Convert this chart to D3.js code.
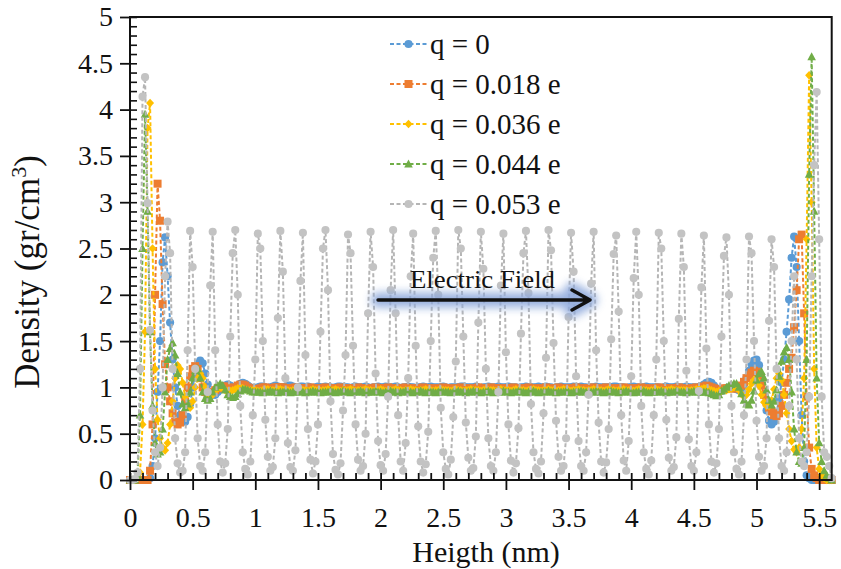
<!DOCTYPE html>
<html>
<head>
<meta charset="utf-8">
<script src="https://cdn.jsdelivr.net/npm/d3@7/dist/d3.min.js"></script>
<style>
  body { margin: 0; background: #fff; }
  svg { display: block; }
</style>
</head>
<body>
<div class="chart"></div>
<script>
// 采样点：0 ~ 5.6 nm，步长 0.02 nm
const heightNm = d3.range(281).map(i => +(i * 0.02).toFixed(2))

// q = 0
const rhoQ0 = [
  0, 0, 0, 0, 0, 0, 0, 0, 0.02, 0.15,
  0.45, 0.95, 1.5, 2.35, 2.62, 2.2, 1.7, 1.3, 1.0, 0.8,
  0.7, 0.64, 0.63, 0.68, 0.82, 1.0, 1.15, 1.25, 1.29, 1.26,
  1.15, 1.03, 0.95, 0.92, 0.92, 0.95, 0.98, 1.0, 1.02, 1.03,
  1.02, 1.0, 0.99, 1.01, 1.04, 1.05, 1.04, 1.02, 1.0, 0.99,
  0.99, 1.0, 1.01, 1.01, 1.0, 0.99, 1.0, 1.01, 1.02, 1.01,
  1.0, 1.0, 1.01, 1.02, 1.02, 1.01, 1.0, 1.0, 1.01, 1.01,
  1.0, 1.01, 1.0, 0.99, 1.0, 1.01, 1.0, 1.0, 1.01, 1.0,
  1.0, 0.99, 1.0, 1.01, 1.01, 1.0, 1.0, 1.0, 0.99, 1.0,
  1.01, 1.0, 1.0, 1.0, 1.01, 1.0, 0.99, 1.0, 1.0, 1.01,
  1.0, 1.0, 1.01, 1.0, 1.0, 1.0, 1.01, 1.0, 0.99, 1.0,
  1.0, 1.01, 1.0, 1.0, 0.99, 1.0, 1.0, 1.01, 1.0, 1.0,
  1.01, 1.0, 1.0, 1.0, 1.0, 1.01, 1.0, 0.99, 1.0, 1.0,
  1.0, 1.0, 1.01, 1.01, 1.0, 1.0, 1.0, 1.0, 1.01, 1.0,
  0.99, 1.0, 1.0, 1.01, 1.0, 1.0, 1.0, 1.01, 1.0, 1.0,
  1.0, 1.01, 1.0, 1.0, 1.0, 0.99, 1.0, 1.0, 1.01, 1.0,
  1.0, 1.0, 1.0, 1.01, 1.0, 1.0, 1.01, 1.0, 1.0, 0.99,
  1.0, 1.0, 1.01, 1.0, 1.0, 1.0, 1.0, 1.01, 1.0, 1.0,
  1.01, 1.0, 1.0, 0.99, 1.0, 1.0, 1.01, 1.0, 1.0, 1.0,
  1.0, 1.0, 1.0, 1.01, 1.01, 1.0, 1.0, 1.0, 0.99, 1.0,
  1.0, 1.01, 1.0, 1.0, 1.0, 1.0, 1.01, 1.0, 1.0, 1.0,
  1.0, 1.0, 0.99, 1.0, 1.01, 1.0, 1.0, 1.0, 1.01, 1.0,
  1.0, 1.0, 1.01, 1.0, 1.0, 1.0, 1.0, 1.0, 1.01, 1.03,
  1.05, 1.06, 1.05, 1.02, 0.99, 0.97, 0.96, 0.97, 0.99, 1.0,
  1.0, 0.99, 0.98, 0.97, 0.99, 1.03, 1.1, 1.18, 1.25, 1.29,
  1.3, 1.24, 1.1, 0.92, 0.75, 0.64, 0.6, 0.63, 0.72, 0.88,
  1.05, 1.3, 1.6, 1.95, 2.4, 2.63, 2.3, 1.5, 0.7, 0.2,
  0.05, 0.02, 0, 0, 0, 0, 0, 0, 0, 0,
  0
]

// q = 0.018 e
const rhoQ018 = [
  0, 0, 0, 0, 0, 0, 0, 0, 0.1, 0.6,
  2.0, 3.2, 2.8, 1.9, 1.25, 1.0, 0.85, 0.72, 0.63, 0.6,
  0.62, 0.7, 0.85, 1.0, 1.12, 1.2, 1.23, 1.2, 1.1, 1.0,
  0.95, 0.93, 0.93, 0.95, 0.97, 0.99, 1.0, 1.01, 1.01, 1.0,
  0.99, 0.99, 1.0, 1.02, 1.03, 1.03, 1.02, 1.0, 0.99, 0.98,
  0.98, 0.98, 0.99, 1.0, 1.0, 0.99, 0.99, 0.99, 1.0, 1.0,
  1.0, 1.0, 0.99, 0.99, 0.99, 0.99, 1.0, 0.99, 0.99, 0.99,
  0.99, 0.99, 1.0, 0.99, 0.98, 0.99, 0.99, 0.99, 1.0, 0.99,
  0.99, 0.98, 0.99, 0.99, 1.0, 0.99, 0.99, 0.99, 0.98, 0.99,
  0.99, 1.0, 0.99, 0.99, 0.99, 0.98, 0.99, 0.99, 1.0, 0.99,
  0.99, 0.99, 0.99, 1.0, 0.99, 0.99, 0.98, 0.99, 0.99, 0.99,
  1.0, 0.99, 0.99, 0.99, 0.98, 0.99, 0.99, 1.0, 0.99, 0.99,
  0.99, 0.99, 0.98, 0.99, 0.99, 1.0, 0.99, 0.99, 0.99, 0.98,
  0.99, 0.99, 1.0, 0.99, 0.99, 0.99, 0.98, 0.99, 0.99, 1.0,
  0.99, 0.98, 0.99, 0.99, 1.0, 0.99, 0.99, 0.99, 0.98, 0.99,
  0.99, 0.99, 0.99, 1.0, 0.99, 0.98, 0.99, 0.99, 0.99, 1.0,
  0.99, 0.99, 0.98, 0.99, 0.99, 0.99, 1.0, 0.99, 0.99, 0.98,
  0.99, 1.0, 0.99, 0.99, 0.98, 0.99, 0.99, 0.99, 1.0, 0.99,
  0.99, 0.98, 0.99, 0.99, 0.99, 1.0, 0.99, 0.98, 0.99, 0.99,
  1.0, 0.99, 0.99, 0.98, 0.99, 0.99, 0.99, 1.0, 0.99, 0.99,
  0.98, 0.99, 0.99, 0.99, 1.0, 0.99, 0.99, 0.98, 0.99, 0.99,
  0.99, 1.0, 0.99, 0.99, 0.99, 0.98, 0.99, 0.99, 0.99, 1.0,
  0.99, 0.99, 0.98, 0.99, 0.99, 0.99, 1.0, 0.99, 1.0, 1.01,
  1.02, 1.01, 1.0, 0.99, 0.98, 0.98, 0.98, 0.99, 0.99, 0.99,
  0.99, 0.99, 0.99, 0.99, 1.02, 1.06, 1.1, 1.13, 1.16, 1.18,
  1.17, 1.12, 1.02, 0.92, 0.84, 0.78, 0.74, 0.7, 0.69, 0.72,
  0.8, 0.92, 1.05, 1.2, 1.32, 1.65, 2.05, 2.6, 2.65, 1.8,
  0.9, 0.35, 0.12, 0.05, 0.02, 0, 0, 0, 0, 0,
  0
]

// q = 0.036 e
const rhoQ036 = [
  0, 0, 0, 0.02, 0.08, 0.6, 1.6, 3.8, 4.07, 2.5,
  1.2, 0.65, 0.45, 0.35, 0.32, 0.4, 0.6, 0.85, 1.1, 1.24,
  1.2, 1.05, 0.9, 0.8, 0.78, 0.85, 1.0, 1.1, 1.15, 1.1,
  1.0, 0.93, 0.9, 0.92, 0.96, 0.99, 1.0, 0.99, 0.97, 0.96,
  0.96, 0.97, 0.98, 0.99, 1.0, 0.99, 0.98, 0.97, 0.97, 0.97,
  0.97, 0.96, 0.96, 0.97, 0.98, 0.98, 0.97, 0.97, 0.97, 0.98,
  0.98, 0.97, 0.97, 0.97, 0.96, 0.97, 0.97, 0.98, 0.97, 0.97,
  0.97, 0.96, 0.97, 0.98, 0.97, 0.97, 0.96, 0.97, 0.97, 0.98,
  0.97, 0.97, 0.98, 0.97, 0.96, 0.97, 0.97, 0.97, 0.98, 0.97,
  0.96, 0.97, 0.97, 0.97, 0.98, 0.97, 0.97, 0.96, 0.97, 0.97,
  0.98, 0.97, 0.96, 0.97, 0.97, 0.97, 0.98, 0.97, 0.97, 0.96,
  0.97, 0.97, 0.98, 0.97, 0.97, 0.96, 0.97, 0.97, 0.98, 0.97,
  0.97, 0.96, 0.97, 0.97, 0.98, 0.97, 0.97, 0.97, 0.96, 0.97,
  0.98, 0.97, 0.97, 0.96, 0.97, 0.97, 0.98, 0.97, 0.97, 0.97,
  0.96, 0.97, 0.98, 0.97, 0.97, 0.97, 0.96, 0.97, 0.98, 0.97,
  0.97, 0.97, 0.96, 0.97, 0.98, 0.97, 0.97, 0.97, 0.96, 0.97,
  0.97, 0.98, 0.97, 0.97, 0.96, 0.97, 0.97, 0.98, 0.97, 0.97,
  0.96, 0.97, 0.97, 0.98, 0.97, 0.97, 0.96, 0.97, 0.97, 0.98,
  0.97, 0.97, 0.96, 0.97, 0.97, 0.98, 0.97, 0.97, 0.97, 0.96,
  0.97, 0.98, 0.97, 0.97, 0.96, 0.97, 0.97, 0.98, 0.97, 0.97,
  0.97, 0.96, 0.97, 0.98, 0.97, 0.97, 0.97, 0.96, 0.97, 0.97,
  0.98, 0.97, 0.97, 0.96, 0.97, 0.97, 0.98, 0.97, 0.97, 0.97,
  0.97, 0.97, 0.97, 0.96, 0.97, 0.97, 0.98, 0.98, 0.98, 0.99,
  0.99, 0.98, 0.97, 0.96, 0.95, 0.96, 0.96, 0.97, 0.97, 0.98,
  0.99, 1.0, 1.0, 0.97, 0.93, 0.9, 0.92, 0.98, 1.04, 1.08,
  1.08, 1.02, 0.92, 0.84, 0.8, 0.8, 0.86, 0.98, 1.1, 1.15,
  1.08, 0.92, 0.72, 0.55, 0.42, 0.33, 0.3, 0.35, 0.55, 1.1,
  2.6, 4.37, 3.0, 1.2, 0.35, 0.12, 0.05, 0.02, 0, 0,
  0
]

// q = 0.044 e
const rhoQ044 = [
  0, 0, 0, 0.05, 0.7, 2.5, 3.95, 2.9, 1.6, 0.8,
  0.4, 0.28, 0.3, 0.55, 0.95, 1.3, 1.42, 1.48, 1.35, 1.15,
  0.95, 0.82, 0.78, 0.82, 0.95, 1.1, 1.18, 1.2, 1.1, 0.95,
  0.88, 0.86, 0.88, 0.95, 1.0, 1.02, 1.04, 1.02, 0.97, 0.92,
  0.9, 0.89, 0.9, 0.93, 0.96, 0.98, 0.98, 0.97, 0.96, 0.95,
  0.95, 0.95, 0.95, 0.94, 0.95, 0.95, 0.96, 0.95, 0.95, 0.94,
  0.95, 0.95, 0.96, 0.95, 0.94, 0.95, 0.95, 0.95, 0.96, 0.95,
  0.94, 0.95, 0.95, 0.96, 0.95, 0.95, 0.94, 0.95, 0.95, 0.95,
  0.96, 0.95, 0.94, 0.95, 0.95, 0.96, 0.95, 0.95, 0.94, 0.95,
  0.95, 0.95, 0.96, 0.95, 0.94, 0.95, 0.95, 0.95, 0.96, 0.95,
  0.95, 0.94, 0.95, 0.95, 0.96, 0.95, 0.95, 0.94, 0.95, 0.95,
  0.96, 0.95, 0.95, 0.94, 0.95, 0.95, 0.96, 0.95, 0.94, 0.95,
  0.95, 0.95, 0.94, 0.95, 0.96, 0.95, 0.95, 0.95, 0.94, 0.95,
  0.95, 0.96, 0.95, 0.95, 0.94, 0.95, 0.95, 0.96, 0.95, 0.95,
  0.94, 0.95, 0.95, 0.96, 0.95, 0.94, 0.95, 0.95, 0.95, 0.96,
  0.95, 0.95, 0.94, 0.95, 0.95, 0.96, 0.95, 0.95, 0.94, 0.95,
  0.95, 0.96, 0.95, 0.94, 0.95, 0.95, 0.95, 0.96, 0.95, 0.95,
  0.94, 0.95, 0.95, 0.95, 0.96, 0.95, 0.94, 0.95, 0.95, 0.95,
  0.96, 0.95, 0.95, 0.94, 0.95, 0.95, 0.96, 0.95, 0.95, 0.94,
  0.95, 0.95, 0.96, 0.95, 0.95, 0.94, 0.95, 0.95, 0.96, 0.95,
  0.95, 0.94, 0.95, 0.95, 0.95, 0.96, 0.95, 0.94, 0.95, 0.95,
  0.95, 0.95, 0.96, 0.95, 0.94, 0.95, 0.95, 0.95, 0.96, 0.95,
  0.95, 0.95, 0.94, 0.95, 0.95, 0.96, 0.95, 0.95, 0.95, 0.95,
  0.95, 0.94, 0.93, 0.92, 0.91, 0.92, 0.96, 0.98, 1.0, 1.02,
  1.03, 1.04, 1.04, 1.0, 0.93, 0.86, 0.82, 0.81, 0.86, 0.96,
  1.08, 1.15, 1.17, 1.1, 0.97, 0.86, 0.81, 0.85, 0.97, 1.12,
  1.28, 1.38, 1.43, 1.3, 0.95, 0.55, 0.3, 0.2, 0.18, 0.35,
  1.3, 3.3, 4.57, 2.9, 1.1, 0.4, 0.2, 0.1, 0.05, 0.02,
  0
]

// q = 0.053 e（除第一行外，每行从一个峰开始）
const rhoQ053 = [
  0, 0, 0.01, 0.08, 1.2, 4.14, 4.35, 2.99, 1.62, 0.75, 0.3, 0.15, 0.35, 1.0, 2.2,
  2.79, 2.45, 1.2, 0.45, 0.18, 0.08, 0.1, 0.3, 1.4,
  2.69, 2.3, 1.2, 0.45, 0.15, 0.1, 0.3, 0.95, 2.1,
  2.68, 1.4, 0.6, 0.2, 0.08, 0.18, 0.55, 1.55, 2.45,
  2.7, 2.0, 0.8, 0.3, 0.12, 0.06, 0.2, 0.7, 1.3,
  2.66, 2.5, 1.5, 0.65, 0.25, 0.1, 0.14, 0.45, 1.75,
  2.69, 2.25, 1.1, 0.4, 0.14, 0.1, 0.32, 1.0, 2.15,
  2.67, 1.35, 0.55, 0.22, 0.07, 0.2, 0.6, 1.6, 2.5,
  2.7, 2.05, 0.85, 0.28, 0.11, 0.06, 0.18, 0.75, 1.35,
  2.65, 2.45, 1.45, 0.6, 0.22, 0.1, 0.15, 0.5, 1.8,
  2.68, 2.3, 1.15, 0.42, 0.16, 0.1, 0.28, 0.9, 2.05,
  2.7, 1.8, 0.7, 0.2, 0.1, 0.4, 1.1, 2.2,
  2.66, 1.45, 0.58, 0.2, 0.08, 0.17, 0.52, 1.5, 2.4,
  2.69, 2.0, 0.78, 0.3, 0.12, 0.06, 0.22, 0.68, 1.28,
  2.7, 2.5, 1.55, 0.62, 0.24, 0.1, 0.13, 0.47, 1.7,
  2.68, 2.28, 1.2, 0.45, 0.15, 0.1, 0.3, 0.95, 2.1,
  2.66, 1.38, 0.6, 0.21, 0.08, 0.18, 0.56, 1.58, 2.45,
  2.69, 2.02, 0.82, 0.3, 0.12, 0.07, 0.2, 0.72, 1.32,
  2.7, 2.48, 1.48, 0.64, 0.25, 0.1, 0.15, 0.45, 1.76,
  2.67, 2.25, 1.12, 0.42, 0.15, 0.1, 0.3, 0.92, 2.12,
  2.68, 1.4, 0.62, 0.2, 0.08, 0.19, 0.55, 1.52, 2.44,
  2.64, 1.82, 0.7, 0.21, 0.1, 0.42, 1.12, 2.18,
  2.68, 2.0, 0.8, 0.3, 0.12, 0.06, 0.21, 0.7, 1.3,
  2.67, 2.5, 1.5, 0.65, 0.24, 0.1, 0.14, 0.46, 1.74,
  2.66, 2.3, 1.18, 0.44, 0.15, 0.1, 0.3, 0.96, 2.08,
  2.64, 1.42, 0.6, 0.2, 0.08, 0.18, 0.55, 1.55, 2.42,
  2.62, 2.0, 0.8, 0.3, 0.12, 0.06, 0.2, 0.7, 1.3,
  2.63, 2.45, 1.5, 0.64, 0.25, 0.1, 0.15, 0.45, 1.72,
  2.6, 2.3, 1.2, 0.45, 0.15, 0.1, 0.3, 0.8, 1.5,
  2.2, 1.3, 0.45, 0.2, 0.15, 0.3, 0.9, 2.2, 3.4,
  4.19, 2.6, 0.9, 0.3, 0.25, 0.15, 0.02
]

const seriesNames = ['q = 0', 'q = 0.018 e', 'q = 0.036 e', 'q = 0.044 e', 'q = 0.053 e']
const seriesValues = [rhoQ0, rhoQ018, rhoQ036, rhoQ044, rhoQ053]
const xTickLabels = [0, 0.5, 1, 1.5, 2, 2.5, 3, 3.5, 4, 4.5, 5, 5.5]
const yTickLabels = [0, 0.5, 1, 1.5, 2, 2.5, 3, 3.5, 4, 4.5, 5]

// 样式
const colors = ['#5B9BD5', '#ED7D31', '#FFC000', '#70AD47', '#C3C3C3']
const shapes = ['circle', 'square', 'diamond', 'triangle', 'circle']
const FONT = '"Liberation Serif", "Times New Roman", serif'

const width = 841
const height = 569
const margin = { left: 130, top: 17, right: 9.3, bottom: 89 }

const svg = d3.select('.chart').append('svg')
  .attr('width', width)
  .attr('height', height)
  .style('font-family', FONT)

const x = d3.scaleLinear().domain([0, 5.6]).range([margin.left, width - margin.right])
const y = d3.scaleLinear().domain([0, 5]).range([height - margin.bottom, margin.top])

function markerPath (shape) {
  if (shape === 'square') return 'M-4,-4H4V4H-4Z'
  if (shape === 'diamond') return 'M0,-4.3L4,0L0,4.3L-4,0Z'
  if (shape === 'triangle') return 'M0,-4.6L4.3,3.4L-4.3,3.4Z'
  return d3.symbol().type(d3.symbolCircle).size(52)()
}

// 曲线
const line = d3.line().x(d => x(d[0])).y(d => y(d[1]))
const plot = svg.append('g').attr('class', 'plot')
seriesValues.forEach((vals, s) => {
  const pts = vals.map((v, i) => [heightNm[i], v])
  const g = plot.append('g').attr('class', 'series')
  g.append('path')
    .attr('d', line(pts))
    .attr('fill', 'none')
    .attr('stroke', s === 4 ? '#B5B5B5' : colors[s])
    .attr('stroke-width', 2)
    .attr('stroke-dasharray', '4,2.5')
  g.selectAll('.m').data(pts).enter().append('path')
    .attr('class', 'm')
    .attr('transform', d => `translate(${x(d[0])},${y(d[1])})`)
    .attr('d', markerPath(shapes[s]))
    .attr('fill', colors[s])
})

// 坐标轴
const x0 = y(0)
const gx = svg.append('g').attr('transform', `translate(0,${x0})`)
  .call(d3.axisBottom(x).tickValues(xTickLabels).tickSize(10).tickPadding(17).tickFormat(d => d))
gx.select('.domain').remove()
gx.selectAll('text').attr('font-size', 28).attr('fill', '#111').attr('font-family', FONT)
gx.selectAll('line').attr('stroke', '#111').attr('stroke-width', 1.8)

svg.append('g').attr('transform', `translate(0,${x0})`)
  .call(d3.axisTop(x).tickValues(d3.range(0, 56).map(i => i / 10)).tickSize(7).tickFormat(''))
  .call(g => g.select('.domain').remove())
  .selectAll('line').attr('stroke', '#111').attr('stroke-width', 1.8)

const gy = svg.append('g').attr('transform', `translate(${margin.left},0)`)
  .call(d3.axisLeft(y).tickValues(yTickLabels).tickSize(10).tickPadding(7).tickFormat(d => d))
gy.select('.domain').remove()
gy.selectAll('text').attr('font-size', 28).attr('fill', '#111').attr('font-family', FONT)
gy.selectAll('line').attr('stroke', '#111').attr('stroke-width', 1.8)

svg.append('g').attr('transform', `translate(${margin.left},0)`)
  .call(d3.axisRight(y).tickValues(d3.range(0, 51).map(i => i / 10)).tickSize(7).tickFormat(''))
  .call(g => g.select('.domain').remove())
  .selectAll('line').attr('stroke', '#111').attr('stroke-width', 1.6)

// 边框
svg.append('rect')
  .attr('x', x(0)).attr('y', y(5))
  .attr('width', x(5.6) - x(0)).attr('height', y(0) - y(5))
  .attr('fill', 'none').attr('stroke', '#111').attr('stroke-width', 2)

// 轴标题
svg.append('text')
  .attr('x', 486).attr('y', 562)
  .attr('text-anchor', 'middle').attr('font-size', 30).attr('fill', '#111')
  .text('Heigth (nm)')

const yTitle = svg.append('text')
  .attr('transform', `translate(39,272) rotate(-90)`)
  .attr('text-anchor', 'middle').attr('font-size', 35).attr('fill', '#111')
yTitle.append('tspan').text('Density (gr/cm')
yTitle.append('tspan').attr('font-size', 22).attr('dy', -13).text('3')
yTitle.append('tspan').attr('dy', 13).text(')')

// 图例
const legend = svg.append('g').attr('class', 'legend')
seriesNames.forEach((name, s) => {
  const ly = 44 + s * 40
  const g = legend.append('g').attr('transform', `translate(390,${ly})`)
  g.append('line').attr('x1', 0).attr('x2', 37)
    .attr('stroke', s === 4 ? '#B5B5B5' : colors[s]).attr('stroke-width', 2).attr('stroke-dasharray', '4,2.5')
  g.append('path').attr('transform', 'translate(18.5,0)')
    .attr('d', markerPath(shapes[s])).attr('fill', colors[s])
  g.append('text').attr('x', 40).attr('y', 10)
    .attr('font-size', 29).attr('fill', '#111').text(name)
})

// 电场箭头
const defs = svg.append('defs')
defs.append('filter').attr('id', 'glow').attr('x', '-20%').attr('y', '-300%').attr('width', '140%').attr('height', '700%')
  .append('feGaussianBlur').attr('stdDeviation', 4)
const arrowPath = 'M378,300H590M572,290L590,300L572,310'
svg.append('path').attr('d', arrowPath).attr('fill', 'none')
  .attr('stroke', '#8EA9DB').attr('stroke-width', 15).attr('stroke-linejoin', 'round').attr('stroke-linecap', 'round')
  .attr('opacity', 0.9).attr('filter', 'url(#glow)')
svg.append('path').attr('d', arrowPath).attr('fill', 'none')
  .attr('stroke', '#111').attr('stroke-width', 3.4).attr('stroke-linecap', 'round').attr('stroke-linejoin', 'round')
svg.append('text')
  .attr('x', 410).attr('y', 288)
  .attr('font-size', 26).attr('textLength', 145).attr('lengthAdjust', 'spacingAndGlyphs')
  .attr('fill', '#111').text('Electric Field')
</script>
</body>
</html>
